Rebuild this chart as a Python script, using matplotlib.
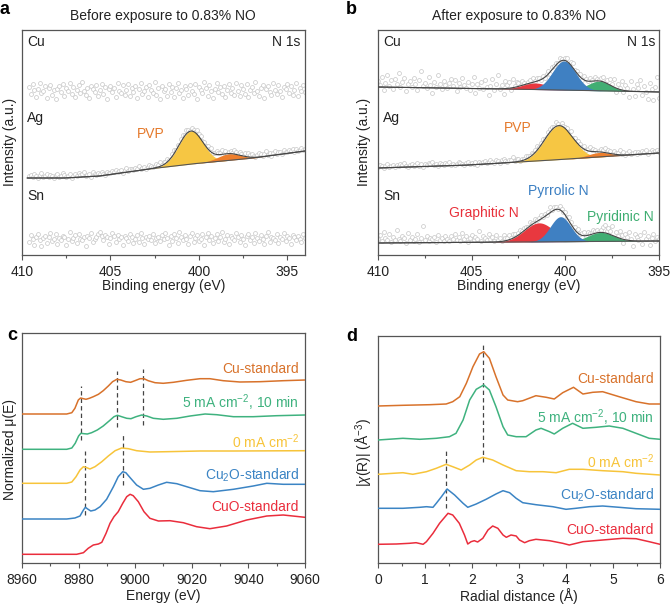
import numpy as np
import matplotlib
matplotlib.use('Agg')
import matplotlib.pyplot as plt
from matplotlib.ticker import MultipleLocator

plt.rcParams['font.family'] = ['Liberation Sans', 'DejaVu Sans']
plt.rcParams['font.size'] = 10
plt.rcParams['mathtext.fontset'] = 'custom'
plt.rcParams['mathtext.rm'] = 'Liberation Sans'
plt.rcParams['mathtext.it'] = 'Liberation Sans:italic'
plt.rcParams['mathtext.default'] = 'regular'

# ---------------- Panel a / b : N 1s XPS (intensity in arbitrary units) ----------------
# scan grids (start, step) in eV
a_scan_start, a_scan_step = 409.6, 0.1
b_scan_start, b_scan_step = 410.0, 0.1

# panel a - Cu (no N signal): flat level + measured scatter
a_cu_level = 164
a_cu_res = [4,-3,7,1,-6,2,8,-2,0,5,-7,3,6,-4,1,-8,2,5,-1,7,
            -5,3,0,8,-3,4,-6,1,6,-2,9,0,-4,3,-7,5,2,-1,6,-5,
            1,7,-3,4,-8,2,5,-1,3,-6,8,0,-2,6,-4,1,7,-5,3,-1,
            5,-7,2,8,-3,0,4,-6,6,1,-2,9,-4,3,-8,5,0,2,-5,7,
            -1,4,-6,3,8,-2,1,-7,5,2,-4,6,0,-3,7,-8,4,1,-2,9,
            3,-5,6,0,-7,2,8,-1,4,-3,5,-6,1,7,-2,3,-4,8,0,-5,
            6,2,-3,7,-6,1,4,-2,9,0,-5,3,6,-7,2,5,-1,-4,8,1,
            -3,6,0,-6,4,2,7,-2,5,-4,1,8,-5,3,0,6,-1]
# panel a - Ag (PVP)
a_ag_base_e = [394.0, 396.9, 399.9, 402.4, 405.6, 407.5, 409.7]
a_ag_base_i = [104, 97, 92, 87, 79, 77, 77]
a_ag_peaks = {'PVP main': (400.45, 33.0, 0.68, '#F6C643'),
              'PVP minor': (398.3, 6.5, 0.65, '#EE7F2D')}
a_ag_res = [2,3,1,4,2,0,3,5,1,2,4,1,3,2,0,3,4,1,2,5,
            3,1,2,4,0,2,3,1,4,2,3,5,1,2,3,0,4,2,1,3,
            2,4,1,0,3,2,1,3,2,4,1,2,3,0,2,4,1,3,2,1,
            3,2,4,1,2,3,0,2,4,3,1,2,3,2,4,1,3,2,3,1,
            0,2,4,1,3,-1,2,3,1,4,2,0,3,2,1,4,2,3,0,2,
            1,3,2,4,0,1,3,2,2,4,1,3,0,2,3,1,4,2,1,3,
            2,0,3,1,4,2,3,1,0,2,4,3,1,2,5,1,3,0,2,4,
            1,3,2,0,4,2,1,3,2,4,0,3,1,2,3,1,2]
# panel a - Sn
a_sn_level = 16
a_sn_res = [-3,4,0,-6,2,5,-1,-7,1,3,-4,2,6,-2,0,5,-5,1,-1,3,
            2,-6,0,7,-2,1,4,-4,5,0,-1,2,-7,3,1,6,-3,0,2,5,
            7,3,-1,4,2,-5,1,6,3,-3,4,0,2,-6,3,1,-2,5,2,-4,
            0,4,-3,6,1,-5,2,0,3,-1,5,-4,1,2,-2,4,0,6,1,-6,
            3,-2,5,1,-4,7,2,-1,4,0,-5,3,6,-3,1,4,-2,0,5,-6,
            2,6,-1,3,-4,1,5,-2,2,7,-3,0,4,-5,3,1,-1,6,2,-3,
            4,0,-6,3,5,-1,2,-4,6,1,-2,4,0,-5,3,7,-3,2,1,-1,
            5,-4,2,0,6,-2,3,1,-5,4,2,-1,3,0,-3,5,1]

# panel b - Cu
b_cu_base_e = [395.0, 400.0, 405.0, 410.0]
b_cu_base_i = [163, 165, 166.5, 168]
b_cu_peaks = {'Graphitic N': (401.6, 6.5, 0.70, '#E8383F'),
              'Pyridinic N': (398.2, 9.5, 0.60, '#41AE73'),
              'Pyrrolic N': (400.07, 29.0, 0.62, '#3F80C2')}
b_cu_res = [6,2,10,-3,4,12,1,7,-2,8,3,14,0,5,9,-4,3,7,1,10,
            4,-2,8,17,2,5,0,11,3,-5,6,1,13,4,-1,7,3,0,5,9,
            2,8,-3,5,1,10,3,0,6,-2,4,12,-4,5,1,7,0,9,2,-6,
            3,10,-1,5,14,0,4,-5,8,3,6,-2,9,1,5,3,0,4,2,-1,
            2,3,-2,4,1,3,2,0,3,-1,2,3,-2,3,1,2,0,4,2,-3,
            3,4,-2,3,5,0,2,1,3,-1,4,2,0,3,1,-2,4,2,1,3,
            5,0,3,-3,6,2,8,-4,5,1,9,-2,6,3,-6,10,2,-5,7,4,
            12,-3,6,0,-7,9,3,-8,5,15,-6]
# panel b - Ag
b_ag_base_e = [395.0, 399.8, 405.1, 410.0]
b_ag_base_i = [102, 96, 90, 87]
b_ag_peaks = {'PVP main': (400.35, 34.0, 0.76, '#F6C643'),
              'PVP minor': (398.2, 4.5, 0.60, '#EE7F2D')}
b_ag_res = [1,3,2,0,2,4,1,2,3,0,2,1,3,2,4,1,0,2,3,1,
            2,4,1,3,0,2,1,3,2,4,1,2,0,3,2,1,3,2,4,1,
            2,0,1,3,2,1,0,2,3,1,2,1,3,0,2,1,2,3,1,2,
            4,2,1,3,2,0,3,4,2,1,3,2,5,1,3,2,0,2,1,3,
            2,1,3,0,2,4,1,2,3,1,0,2,3,2,1,4,2,0,3,1,
            2,3,1,4,0,2,1,3,2,1,3,0,2,4,1,3,2,0,1,3,
            2,4,1,3,2,0,3,1,2,5,1,3,0,2,4,1,2,3,0,2,
            1,3,2,4,0,2,3,1,2,3,1]
# panel b - Sn
b_sn_base_e = [395.0, 410.0]
b_sn_base_i = [14, 12]
b_sn_peaks = {'Graphitic N': (401.4, 19.0, 0.78, '#E8383F'),
              'Pyridinic N': (398.1, 9.0, 0.68, '#41AE73'),
              'Pyrrolic N': (400.25, 25.0, 0.55, '#3F80C2')}
b_sn_res = [4,8,2,11,5,3,9,1,6,3,13,4,2,7,5,0,10,3,6,2,
            4,9,1,5,17,3,7,2,5,4,6,1,8,3,5,2,7,4,1,6,
            3,8,2,5,1,9,3,6,0,4,7,2,5,3,11,1,6,4,2,8,
            3,5,1,7,2,4,0,6,3,2,5,1,4,3,0,2,4,1,3,2,
            1,4,2,0,3,1,2,4,1,3,0,2,5,1,3,2,0,4,2,1,
            3,1,4,2,0,3,2,5,1,2,4,0,3,2,1,4,2,3,0,2,
            5,8,2,6,3,9,-3,5,2,7,4,-4,6,3,8,2,-5,7,4,1,
            6,-3,9,2,5,-4,3,7,0,4,2]

# ---------------- Panel c : Cu K-edge XANES ----------------
c_names = ['Cu-standard', '5 mA cm$^{-2}$, 10 min', '0 mA cm$^{-2}$', 'Cu$_2$O-standard', 'CuO-standard']
c_colors = ['#D8722B', '#3FB27F', '#F7C43A', '#3B84C4', '#EA2D3C']
c_cu_e = [8960, 8975.8, 8977.6, 8978.7, 8979.9, 8980.7, 8981.7, 8982.6, 8983.8, 8985.2, 8987, 8988.7,
          8990.5, 8992, 8993.5, 8994.9, 8996.7, 8998.4, 8999.9, 9001.7, 9003.1, 9004.6, 9007, 9009.9,
          9013.5, 9018.2, 9022.9, 9026.4, 9031.1, 9037, 9044.1, 9052.3, 9060]
c_cu_i = [149, 149, 150.3, 154.7, 163, 165, 164.3, 163.7, 164.7, 166.3, 168.7, 172.3,
          177, 181.3, 183.7, 183, 181.3, 180.7, 182.3, 184.3, 184.3, 182.3, 180.3, 179.7,
          180.7, 182.7, 184.3, 184.3, 182.3, 181, 181.3, 182.3, 183]
c_5ma_e = [8960, 8975.8, 8977.6, 8978.8, 8980, 8980.8, 8981.9, 8983.1, 8984.6, 8986.6, 8988.7, 8990.9,
           8992.5, 8993.7, 8995.2, 8997, 8998.5, 9000.3, 9002.3, 9004.1, 9006.4, 9009.9, 9014.7,
           9019.4, 9024.7, 9028.8, 9034.7, 9041.7, 9050, 9060]
c_5ma_i = [113.7, 113.7, 115, 119.7, 127, 129.7, 129.3, 129, 130.3, 133, 137, 142.3,
           146.3, 147.7, 146.3, 144.7, 144.3, 146.3, 148, 147, 144.7, 143.7, 144.7,
           147, 149, 148.3, 146.3, 146.3, 147.3, 148]
c_0ma_e = [8960, 8975.8, 8977.6, 8979.1, 8980.5, 8981.7, 8982.9, 8984, 8985.8, 8988.2, 8990.5,
           8992.9, 8995.2, 8997.6, 9000.5, 9005.2, 9011.1, 9022.9, 9034.7, 9060]
c_0ma_i = [79.7, 79.7, 81, 86.3, 93, 96.3, 95.3, 94, 96.3, 101.3, 107,
           112.3, 115, 114.3, 112.3, 111, 111.3, 112, 112, 112.3]
c_cu2o_e = [8960, 8975.8, 8978.7, 8980.5, 8981.7, 8982.4, 8983.2, 8984.3, 8985.8, 8987.6, 8989.9,
            8992.3, 8994, 8995.6, 8996.7, 8998.4, 9000.5, 9002.9, 9005.2, 9008.2, 9011.1, 9014.7,
            9018.2, 9022.9, 9027.6, 9034.7, 9041.7, 9046.5, 9052.3, 9060]
c_cu2o_i = [44, 44, 45, 47, 53, 55.7, 54, 52, 53, 56.3, 63.7,
            76.3, 86.3, 91.3, 90.3, 84.7, 78, 73.7, 74.7, 78, 80.7, 79.3,
            76.3, 72.3, 71.3, 73.7, 77, 79.7, 78.7, 78.7]
c_cuo_e = [8960, 8979.3, 8981.7, 8983.4, 8985.2, 8987, 8988.2, 8989.7, 8991.1, 8992.5, 8994,
           8995.6, 8997, 8998.2, 8999.3, 9001.1, 9003.1, 9005.2, 9008.2, 9012.3, 9017, 9021.7,
           9026.4, 9032.3, 9039.4, 9046.5, 9052.3, 9060]
c_cuo_i = [8.7, 8.7, 10.3, 14.7, 18, 19, 20.7, 29.7, 39.7, 46.3, 51.3,
           59.7, 66.3, 68.7, 67.3, 61.3, 51.3, 44.7, 42, 42.3, 40.3, 36.3,
           34.3, 37, 43, 47, 48, 45.7]
c_label_y = [194, 160, 121, 88, 56]
# dashed guide lines: (energy, y_low, y_high)
c_guides = [(8980.8, 123, 177), (8993.4, 136.3, 192.3), (9002.9, 138, 194),
            (8995.8, 78, 129.7), (8982.4, 48, 112.3)]

# ---------------- Panel d : Fourier-transformed EXAFS ----------------
d_cu_r = [0, 0.53, 1.10, 1.45, 1.59, 1.74, 1.88, 2.02, 2.16, 2.25, 2.37, 2.51, 2.66, 2.76,
          2.97, 3.08, 3.36, 3.58, 3.75, 3.93, 4.16, 4.36, 4.57, 4.78, 5.13, 5.49, 5.77, 6.0]
d_cu_i = [157.0, 157.7, 158.3, 159.0, 161.3, 166.3, 179.7, 196.3, 209.0, 211.3, 204.7, 186.3, 168.0, 163.0,
          161.3, 162.3, 167.3, 165.7, 164.0, 170.3, 175.7, 169.0, 170.7, 171.3, 166.3, 161.3, 159.0, 159.0]
d_5ma_r = [0, 0.53, 0.89, 1.24, 1.52, 1.66, 1.81, 1.95, 2.09, 2.25, 2.37, 2.51, 2.66, 2.76, 2.94,
           3.15, 3.36, 3.47, 3.65, 3.75, 3.93, 4.14, 4.36, 4.64, 4.92, 5.21, 5.49, 5.77, 6.0]
d_5ma_i = [123.0, 124.7, 123.7, 124.7, 126.3, 129.7, 143.0, 163.0, 173.7, 178.0, 173.0, 156.3, 136.3, 128.0, 126.3,
           126.3, 133.0, 134.7, 131.3, 129.0, 134.7, 139.7, 134.7, 135.7, 137.0, 134.7, 129.7, 124.7, 123.7]
d_0ma_r = [0, 0.32, 0.53, 0.74, 1.03, 1.24, 1.45, 1.59, 1.77, 1.95, 2.09, 2.23, 2.44, 2.66, 2.94,
           3.22, 3.51, 3.79, 4.07, 4.36, 4.78, 5.21, 5.49, 6.0]
d_0ma_i = [88.7, 89.7, 90.3, 88.7, 91.3, 94.7, 98.7, 96.3, 93.0, 98.0, 103.0, 105.7, 103.0, 98.0, 92.3,
           91.3, 91.3, 90.3, 93.7, 93.7, 92.3, 91.3, 89.7, 88.0]
d_cu2o_r = [0, 0.53, 0.89, 1.03, 1.17, 1.24, 1.35, 1.47, 1.63, 1.81, 1.91, 2.09, 2.30, 2.51, 2.66,
            2.80, 2.94, 3.08, 3.36, 3.72, 4.0, 4.21, 4.50, 4.78, 5.13, 5.49, 6.0]
d_cu2o_i = [54.7, 54.7, 55.7, 56.3, 55.7, 59.7, 66.3, 74.0, 68.0, 59.7, 55.7, 59.0, 63.7, 69.0, 72.3,
            70.3, 64.7, 60.3, 58.3, 56.3, 53.7, 54.7, 56.3, 57.0, 55.7, 54.3, 53.7]
d_cuo_r = [0, 0.39, 0.67, 0.81, 0.96, 1.03, 1.17, 1.31, 1.49, 1.59, 1.73, 1.84, 1.91, 1.98, 2.05,
           2.12, 2.23, 2.34, 2.44, 2.55, 2.66, 2.73, 2.83, 2.94, 3.01, 3.12, 3.22, 3.36, 3.65,
           3.93, 4.07, 4.36, 4.78, 5.21, 5.49, 5.77, 6.0]
d_cuo_i = [18.7, 19.0, 19.7, 20.3, 18.7, 21.3, 29.7, 39.7, 49.7, 48.0, 39.7, 28.0, 19.0, 21.3, 22.3,
           21.0, 24.7, 33.0, 37.0, 34.7, 28.0, 25.7, 28.0, 27.0, 23.0, 20.3, 22.3, 23.7, 22.3,
           19.7, 18.0, 21.3, 23.0, 24.7, 24.3, 21.3, 18.7]
d_label_y = [184, 145, 101, 68, 33]
d_guides = [(2.24, 101.3, 221.3), (1.44, 54.7, 113.7)]

# ---------------- helpers ----------------
SPINE = '#555555'
TXT = '#222222'
PT_EDGE = '#c6c6c6'


def style(ax):
    for s in ax.spines.values():
        s.set_color(SPINE)
        s.set_linewidth(0.9)
    ax.tick_params(axis='x', which='major', direction='out', length=3.5, width=0.8,
                   color=SPINE, pad=3.5, labelsize=10, labelcolor=TXT)
    ax.tick_params(axis='x', which='minor', direction='out', length=2, width=0.8, color=SPINE)
    ax.set_yticks([])


def gauss(x, c, a, s):
    return a * np.exp(-0.5 * ((x - c) / s) ** 2)


def xps_trace(ax, x_fit, base_e, base_i, peaks, scan_start, scan_step, res):
    base = np.interp(x_fit, base_e, base_i)
    env = base.copy()
    for name, (c, a, s, col) in peaks.items():
        env = env + gauss(x_fit, c, a, s)
    # measured points
    xs = scan_start - scan_step * np.arange(len(res))
    ys = np.interp(xs, x_fit, env) + np.array(res)
    ax.plot(xs, ys, 'o', ms=2.8, mfc='white', mec=PT_EDGE, mew=0.5, zorder=1)
    for name, (c, a, s, col) in peaks.items():
        comp = gauss(x_fit, c, a, s)
        m = comp > 0.05
        ax.fill_between(x_fit[m], base[m], base[m] + comp[m], color=col, lw=0, zorder=2)
    ax.plot(x_fit, base, color='#555555', lw=0.8, zorder=3)
    ax.plot(x_fit, env, color='#444444', lw=0.8, zorder=3)


def flat_trace(ax, level, scan_start, scan_step, res):
    xs = scan_start - scan_step * np.arange(len(res))
    ax.plot(xs, level + np.array(res), 'o', ms=2.8, mfc='white', mec=PT_EDGE, mew=0.5, zorder=1)


fig = plt.figure(figsize=(6.72, 6.08), dpi=100)
ax_a = fig.add_axes([22 / 672, 1 - 255 / 608, 283 / 672, 225 / 608])
ax_b = fig.add_axes([378 / 672, 1 - 255 / 608, 281 / 672, 225 / 608])
ax_c = fig.add_axes([22 / 672, 1 - 563 / 608, 283 / 672, 230 / 608])
ax_d = fig.add_axes([378 / 672, 1 - 563 / 608, 282 / 672, 227 / 608])

# ---- a ----
xa = np.linspace(394.0, 409.7, 600)
flat_trace(ax_a, a_cu_level, a_scan_start, a_scan_step, a_cu_res)
xps_trace(ax_a, xa, a_ag_base_e, a_ag_base_i, a_ag_peaks, a_scan_start, a_scan_step, a_ag_res)
flat_trace(ax_a, a_sn_level, a_scan_start, a_scan_step, a_sn_res)
ax_a.set_xlim(410, 394)
ax_a.set_ylim(0, 225)

# ---- b ----
xb = np.linspace(395.0, 410.0, 600)
xps_trace(ax_b, xb, b_cu_base_e, b_cu_base_i, b_cu_peaks, b_scan_start, b_scan_step, b_cu_res)
xps_trace(ax_b, xb, b_ag_base_e, b_ag_base_i, b_ag_peaks, b_scan_start, b_scan_step, b_ag_res)
xps_trace(ax_b, xb, b_sn_base_e, b_sn_base_i, b_sn_peaks, b_scan_start, b_scan_step, b_sn_res)
ax_b.set_xlim(410, 395)
ax_b.set_ylim(0, 225)

for ax in (ax_a, ax_b):
    style(ax)
    ax.xaxis.set_major_locator(MultipleLocator(5))
    ax.xaxis.set_minor_locator(MultipleLocator(2.5))
    ax.set_xlabel('Binding energy (eV)', color=TXT, va='center')
    ax.xaxis.set_label_coords(0.5, (255 - 286) / 225)
    ax.text(0.018, 0.947, 'Cu', transform=ax.transAxes, ha='left', va='center', color=TXT)
    ax.text(0.018, 0.609, 'Ag', transform=ax.transAxes, ha='left', va='center', color=TXT)
    ax.text(0.018, 0.262, 'Sn', transform=ax.transAxes, ha='left', va='center', color=TXT)

ax_a.text(0.982, 0.947, 'N 1s', transform=ax_a.transAxes, ha='right', va='center', color=TXT)
ax_b.text(0.987, 0.947, 'N 1s', transform=ax_b.transAxes, ha='right', va='center', color=TXT)
ax_a.text(0.456, 0.538, 'PVP', transform=ax_a.transAxes, ha='center', va='center', color='#E57A2C')
ax_b.text(0.498, 0.564, 'PVP', transform=ax_b.transAxes, ha='center', va='center', color='#E57A2C')
ax_b.text(0.64, 0.284, 'Pyrrolic N', transform=ax_b.transAxes, ha='center', va='center', color='#3A7EC2')
ax_b.text(0.377, 0.187, 'Graphitic N', transform=ax_b.transAxes, ha='center', va='center', color='#E8303A')
ax_b.text(0.861, 0.169, 'Pyridinic N', transform=ax_b.transAxes, ha='center', va='center', color='#3FAE72')

fig.text(163 / 672, 1 - 16 / 608, 'Before exposure to 0.83% NO', ha='center', va='center', color=TXT)
fig.text(519 / 672, 1 - 16 / 608, 'After exposure to 0.83% NO', ha='center', va='center', color=TXT)
fig.text(10 / 672, 1 - 142 / 608, 'Intensity (a.u.)', rotation=90, ha='center', va='center', color=TXT)
fig.text(364 / 672, 1 - 142 / 608, 'Intensity (a.u.)', rotation=90, ha='center', va='center', color=TXT)

# ---- c ----
c_series = [(c_cu_e, c_cu_i), (c_5ma_e, c_5ma_i), (c_0ma_e, c_0ma_i), (c_cu2o_e, c_cu2o_i), (c_cuo_e, c_cuo_i)]
for (e, i), col, name, ly in zip(c_series, c_colors, c_names, c_label_y):
    ax_c.plot(e, i, color=col, lw=1.1, zorder=3)
    ax_c.text(0.979, ly, name, transform=ax_c.get_yaxis_transform(), ha='right', va='center', color=col)
for (e, lo, hi) in c_guides:
    ax_c.plot([e, e], [lo, hi], color='#444444', lw=0.9, ls=(0, (3.5, 2.5)), zorder=2)
ax_c.set_xlim(8960, 9060)
ax_c.set_ylim(0, 230)
style(ax_c)
ax_c.xaxis.set_major_locator(MultipleLocator(20))
ax_c.xaxis.set_minor_locator(MultipleLocator(10))
ax_c.set_xlabel('Energy (eV)', color=TXT, va='center')
ax_c.xaxis.set_label_coords(0.5, (563 - 596) / 230)
fig.text(10 / 672, 1 - 450 / 608, 'Normalized μ(E)', rotation=90, ha='center', va='center', color=TXT)

# ---- d ----
d_series = [(d_cu_r, d_cu_i), (d_5ma_r, d_5ma_i), (d_0ma_r, d_0ma_i), (d_cu2o_r, d_cu2o_i), (d_cuo_r, d_cuo_i)]
for (r, i), col, name, ly in zip(d_series, c_colors, c_names, d_label_y):
    ax_d.plot(r, i, color=col, lw=1.1, zorder=3)
    ax_d.text(0.979, ly, name, transform=ax_d.get_yaxis_transform(), ha='right', va='center', color=col)
for (r, lo, hi) in d_guides:
    ax_d.plot([r, r], [lo, hi], color='#444444', lw=0.9, ls=(0, (3.5, 2.5)), zorder=2)
ax_d.set_xlim(0, 6)
ax_d.set_ylim(0, 227)
style(ax_d)
ax_d.xaxis.set_major_locator(MultipleLocator(1))
ax_d.xaxis.set_minor_locator(MultipleLocator(0.5))
ax_d.set_xlabel('Radial distance (Å)', color=TXT, va='center')
ax_d.xaxis.set_label_coords(0.5, (563 - 596) / 227)
fig.text(364 / 672, 1 - 452 / 608, '|$\\it{χ}$(R)| (Å$^{-3}$)', rotation=90, ha='center', va='center', color=TXT)

# panel letters
for lx, ly, s in [(4, 10, 'a'), (351, 10, 'b'), (12, 335, 'c'), (352, 336, 'd')]:
    fig.text(lx / 672, 1 - ly / 608, s, ha='center', va='center', fontsize=13, fontweight='bold', color='black')

fig.savefig('out.png', dpi=100)
